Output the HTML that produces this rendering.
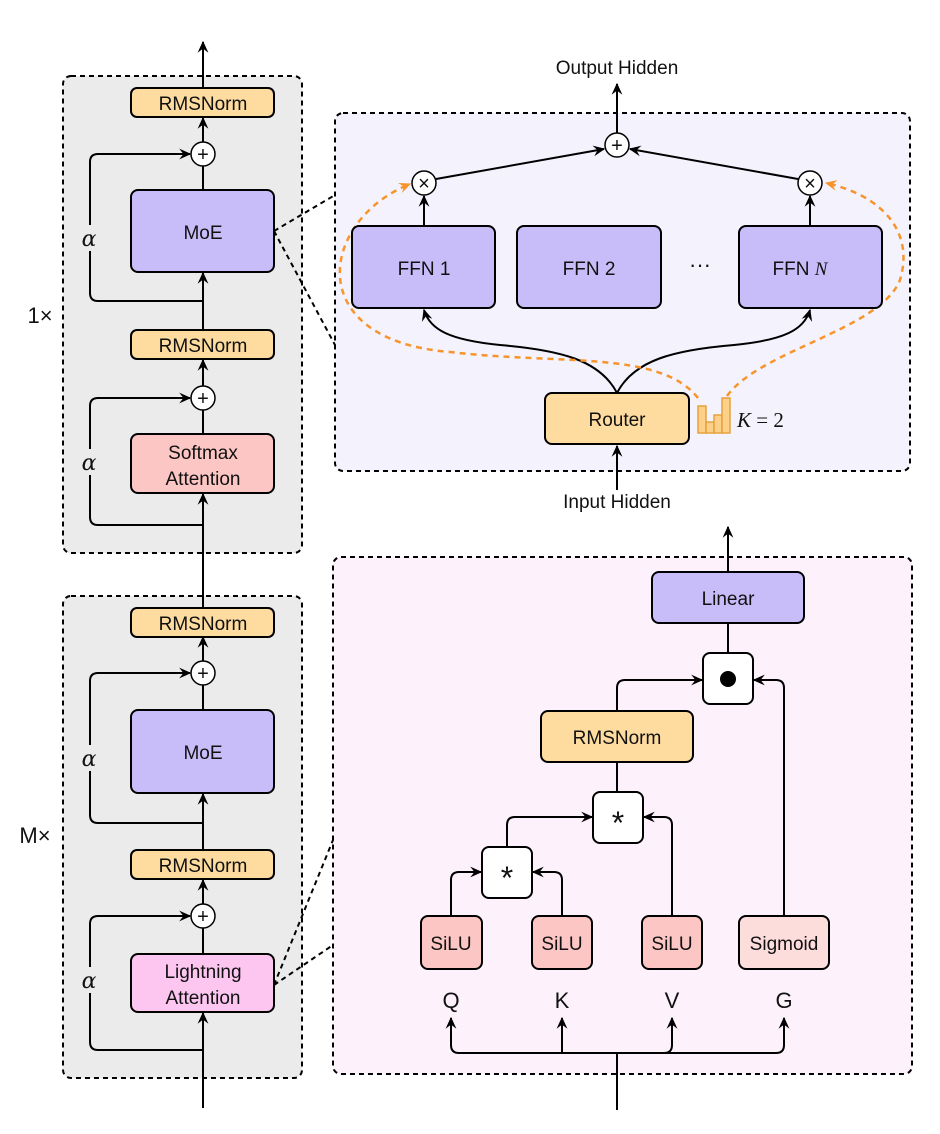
<!DOCTYPE html>
<html><head><meta charset="utf-8"><style>
html,body{margin:0;padding:0;background:#fff}
svg{display:block}
text{font-family:"Liberation Sans","DejaVu Sans",sans-serif;fill:#111}
</style></head><body>
<svg width="940" height="1134" viewBox="0 0 940 1134" xmlns="http://www.w3.org/2000/svg">
<defs>
<marker id="a" viewBox="0 0 10 10" refX="9" refY="5" markerWidth="12" markerHeight="12" orient="auto" markerUnits="userSpaceOnUse"><path d="M0,0.5 L10,5 L0,9.5 L3.5,5 Z" fill="#000"/></marker>
<marker id="o" viewBox="0 0 10 10" refX="9" refY="5" markerWidth="12" markerHeight="12" orient="auto" markerUnits="userSpaceOnUse"><path d="M0,0.5 L10,5 L0,9.5 L3.5,5 Z" fill="#f7952c"/></marker>
</defs>
<g stroke="#000" stroke-width="2" fill="none">
<rect x="63" y="76" width="239" height="477" rx="8" fill="#ebebeb" stroke-dasharray="5,4"/>
<rect x="63" y="596" width="239" height="482" rx="8" fill="#ebebeb" stroke-dasharray="5,4"/>
<rect x="335" y="113" width="575" height="358" rx="8" fill="#f3f2fd" stroke-dasharray="5,4"/>
<rect x="333" y="557" width="579" height="517" rx="8" fill="#fdf2fb" stroke-dasharray="5,4"/>
<path d="M274,231 L335,195 M274,231 L335,345" stroke-dasharray="5,4"/>
<path d="M274,985 L333,840 M274,985 L333,945" stroke-dasharray="5,4"/>
<path d="M203,88 L203,42" marker-end="url(#a)"/>
<path d="M203,142 L203,118" marker-end="url(#a)"/>
<path d="M203,190 L203,166"/>
<path d="M203,330 L203,273" marker-end="url(#a)"/>
<path d="M203,301 L98,301 Q90,301 90,293 L90,162 Q90,154 98,154 L190,154" marker-end="url(#a)"/>
<path d="M203,386 L203,360" marker-end="url(#a)"/>
<path d="M203,434 L203,410"/>
<path d="M203,608 L203,494" marker-end="url(#a)"/>
<path d="M203,525 L98,525 Q90,525 90,517 L90,406 Q90,398 98,398 L190,398" marker-end="url(#a)"/>
<path d="M203,661 L203,637" marker-end="url(#a)"/>
<path d="M203,710 L203,685"/>
<path d="M203,850 L203,794" marker-end="url(#a)"/>
<path d="M203,823 L98,823 Q90,823 90,815 L90,681 Q90,673 98,673 L190,673" marker-end="url(#a)"/>
<path d="M203,904 L203,880" marker-end="url(#a)"/>
<path d="M203,954 L203,928"/>
<path d="M203,1108 L203,1013" marker-end="url(#a)"/>
<path d="M203,1050 L98,1050 Q90,1050 90,1042 L90,924 Q90,916 98,916 L190,916" marker-end="url(#a)"/>
</g>
<g fill="#ebebeb">
<rect x="80" y="225" width="20" height="26"/>
<rect x="80" y="449" width="20" height="26"/>
<rect x="80" y="745" width="20" height="26"/>
<rect x="80" y="967" width="20" height="26"/>
</g>
<g stroke="#000" stroke-width="2">
<rect x="131" y="88" width="143" height="29" rx="6" fill="#fedb9f"/>
<rect x="131" y="190" width="143" height="82" rx="7" fill="#c8bdf8"/>
<rect x="131" y="330" width="143" height="29" rx="6" fill="#fedb9f"/>
<rect x="131" y="434" width="143" height="59" rx="7" fill="#fcc6c4"/>
<rect x="131" y="608" width="143" height="29" rx="6" fill="#fedb9f"/>
<rect x="131" y="710" width="143" height="83" rx="7" fill="#c8bdf8"/>
<rect x="131" y="850" width="143" height="29" rx="6" fill="#fedb9f"/>
<rect x="131" y="954" width="143" height="58" rx="7" fill="#fcc6f0"/>
<circle cx="203" cy="154" r="12" fill="#fff" stroke-width="1.5"/>
<circle cx="203" cy="398" r="12" fill="#fff" stroke-width="1.5"/>
<circle cx="203" cy="673" r="12" fill="#fff" stroke-width="1.5"/>
<circle cx="203" cy="916" r="12" fill="#fff" stroke-width="1.5"/>
</g>
<g font-size="19" text-anchor="middle">
<text x="203" y="110">RMSNorm</text>
<text x="203" y="239">MoE</text>
<text x="203" y="352">RMSNorm</text>
<text x="203" y="459">Softmax</text>
<text x="203" y="485">Attention</text>
<text x="203" y="630">RMSNorm</text>
<text x="203" y="759">MoE</text>
<text x="203" y="872">RMSNorm</text>
<text x="203" y="978">Lightning</text>
<text x="203" y="1004">Attention</text>
<text x="203" y="161" font-size="20">+</text>
<text x="203" y="405" font-size="20">+</text>
<text x="203" y="680" font-size="20">+</text>
<text x="203" y="923" font-size="20">+</text>
</g>
<g text-anchor="middle">
<text x="89" y="246" style="font-family:'DejaVu Serif','Liberation Serif',serif;font-size:22px;font-style:italic">α</text>
<text x="89" y="470" style="font-family:'DejaVu Serif','Liberation Serif',serif;font-size:22px;font-style:italic">α</text>
<text x="89" y="766" style="font-family:'DejaVu Serif','Liberation Serif',serif;font-size:22px;font-style:italic">α</text>
<text x="89" y="988" style="font-family:'DejaVu Serif','Liberation Serif',serif;font-size:22px;font-style:italic">α</text>
</g>
<text x="40" y="323" font-size="22" text-anchor="middle">1×</text>
<text x="35" y="843" font-size="22" text-anchor="middle">M×</text>

<g stroke="#000" stroke-width="2" fill="none">
<path d="M617,133 L617,84" marker-end="url(#a)"/>
<path d="M436,179 L604,149" marker-end="url(#a)"/>
<path d="M798,179 L630,149" marker-end="url(#a)"/>
<path d="M424,226 L424,196" marker-end="url(#a)"/>
<path d="M810,226 L810,196" marker-end="url(#a)"/>
<path d="M617,393 C600,360 560,350 500,345 C450,340 430,330 424,310" marker-end="url(#a)"/>
<path d="M617,393 C634,360 674,350 734,345 C784,340 804,330 810,310" marker-end="url(#a)"/>
<path d="M617,490 L617,446" marker-end="url(#a)"/>
</g>
<g stroke="#f7952c" stroke-width="2.5" fill="none" stroke-dasharray="6,5">
<path d="M698,398 C660,350 560,365 450,352 C300,340 320,220 410,184" marker-end="url(#o)"/>
<path d="M727,396 C760,350 880,330 900,280 C915,230 880,195 826,183" marker-end="url(#o)"/>
</g>
<g stroke="#000" stroke-width="2">
<rect x="352" y="226" width="143" height="82" rx="7" fill="#c8bdf8"/>
<rect x="517" y="226" width="144" height="82" rx="7" fill="#c8bdf8"/>
<rect x="739" y="226" width="143" height="82" rx="7" fill="#c8bdf8"/>
<rect x="545" y="393" width="144" height="51" rx="7" fill="#fedb9f"/>
<circle cx="617" cy="145" r="12" fill="#fff" stroke-width="1.5"/>
<circle cx="424" cy="183" r="12" fill="#fff" stroke-width="1.5"/>
<circle cx="810" cy="183" r="12" fill="#fff" stroke-width="1.5"/>
</g>
<g stroke="#e6a23c" stroke-width="1.5" fill="#fdd18a">
<rect x="698" y="406" width="8" height="27"/>
<rect x="706" y="422" width="8" height="11"/>
<rect x="714" y="415" width="8" height="18"/>
<rect x="722" y="398" width="8" height="35"/>
</g>
<g font-size="19" text-anchor="middle">
<text x="617" y="74">Output Hidden</text>
<text x="617" y="508">Input Hidden</text>
<text x="617" y="152" font-size="20">+</text>
<text x="424" y="190" font-size="20">×</text>
<text x="810" y="190" font-size="20">×</text>
<text x="424" y="275">FFN 1</text>
<text x="589" y="275">FFN 2</text>
<text x="700" y="272" font-size="22">···</text>
<text x="800" y="275">FFN <tspan font-style="italic" style="font-family:'Liberation Serif',serif">N</tspan></text>
<text x="617" y="426">Router</text>
</g>
<text x="737" y="427" font-size="21" style="font-family:'Liberation Serif',serif"><tspan font-style="italic">K</tspan> = 2</text>

<g stroke="#000" stroke-width="2" fill="none">
<path d="M728,572 L728,527" marker-end="url(#a)"/>
<path d="M728,653 L728,623"/>
<path d="M617,711 L617,688 Q617,680 625,680 L702,680" marker-end="url(#a)"/>
<path d="M784,916 L784,688 Q784,680 776,680 L754,680" marker-end="url(#a)"/>
<path d="M617,792 L617,762"/>
<path d="M507,847 L507,825 Q507,817 515,817 L592,817" marker-end="url(#a)"/>
<path d="M672,916 L672,825 Q672,817 664,817 L644,817" marker-end="url(#a)"/>
<path d="M451,916 L451,880 Q451,872 459,872 L481,872" marker-end="url(#a)"/>
<path d="M562,916 L562,880 Q562,872 554,872 L533,872" marker-end="url(#a)"/>
<path d="M617,1110 L617,1053"/>
<path d="M459,1053 L776,1053"/>
<path d="M459,1053 Q451,1053 451,1045 L451,1018" marker-end="url(#a)"/>
<path d="M562,1053 L562,1018" marker-end="url(#a)"/>
<path d="M664,1053 Q672,1053 672,1045 L672,1018" marker-end="url(#a)"/>
<path d="M776,1053 Q784,1053 784,1045 L784,1018" marker-end="url(#a)"/>
</g>
<g stroke="#000" stroke-width="2">
<rect x="652" y="572" width="152" height="51" rx="7" fill="#c8bdf8"/>
<rect x="703" y="653" width="50" height="51" rx="7" fill="#fff"/>
<rect x="541" y="711" width="152" height="51" rx="7" fill="#fedb9f"/>
<rect x="593" y="792" width="50" height="51" rx="7" fill="#fff"/>
<rect x="482" y="847" width="50" height="51" rx="7" fill="#fff"/>
<rect x="421" y="916" width="61" height="53" rx="7" fill="#fcc6c4"/>
<rect x="532" y="916" width="60" height="53" rx="7" fill="#fcc6c4"/>
<rect x="642" y="916" width="60" height="53" rx="7" fill="#fcc6c4"/>
<rect x="739" y="916" width="90" height="53" rx="7" fill="#fddcdc"/>
</g>
<circle cx="728" cy="679" r="8" fill="#000"/>
<g font-size="19" text-anchor="middle">
<text x="728" y="605">Linear</text>
<text x="617" y="744">RMSNorm</text>
<text x="618" y="834" font-size="32">*</text>
<text x="507" y="889" font-size="32">*</text>
<text x="451" y="950">SiLU</text>
<text x="562" y="950">SiLU</text>
<text x="672" y="950">SiLU</text>
<text x="784" y="950">Sigmoid</text>
<text x="451" y="1008" font-size="22">Q</text>
<text x="562" y="1008" font-size="22">K</text>
<text x="672" y="1008" font-size="22">V</text>
<text x="784" y="1008" font-size="22">G</text>
</g>
</svg>
</body></html>
